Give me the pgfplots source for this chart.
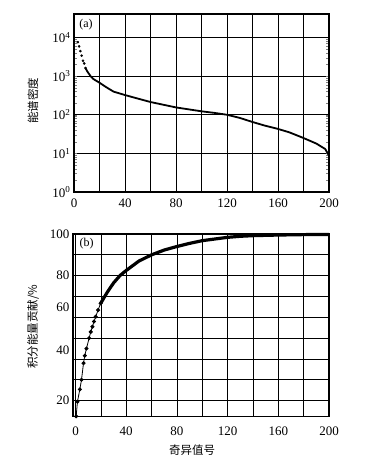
\documentclass[border=0pt]{standalone}
\usepackage{fontspec}
\setmainfont{Liberation Serif}
\newfontfamily\cjk{Noto Sans CJK SC}
\usepackage{pgfplots}
\pgfplotsset{compat=1.18}
\pgfplotsset{
  panel/.style={
    scale only axis, anchor=south west,
    axis line style={line width=1.2pt},
    grid=major,
    grid style={black, line width=0.7pt},
    major tick length=0pt,
    tick label style={font=\fontsize{13}{15}\selectfont},
    /pgf/number format/assume math mode=true,
    xmax=200,
    xtick={0,20,...,200},
    xticklabels={0,,40,,80,,120,,160,,200},
    clip=false,
  },
}
\begin{document}
\begin{tikzpicture}[x=1pt,y=1pt]
\useasboundingbox (0,0) rectangle (377,468);
% (a) spectral density, log scale
\begin{axis}[panel,
  at={(74pt,276pt)}, width=255pt, height=178pt,
  xmin=0,
  x tick label style={yshift=-3pt},
  ymode=log, ymin=1, ymax=40738,
  ytick={1,10,100,1000,10000},
  yticklabels={10\textsuperscript{0},10\textsuperscript{1},10\textsuperscript{2},10\textsuperscript{3},10\textsuperscript{4}},
]
\addplot[only marks, mark=*, mark size=1.1pt] coordinates {
  (3,7586)(4,5888)(5,4467)(6,3388)(7,2512)(8,2138)(9,1622)
};
\addplot[line width=1.8pt, no marks] coordinates {
  (9,1622)(10.5,1318)(13,1000)(15,851)(20,676)(25,525)(31,398)(40,324)
  (50,263)(60,214)(70,182)(80,155)(90,138)(100,123)(110,112)(120,100)
  (130,83)(140,65)(150,52)(160,43)(169,35)(180,25)(190,18)(197,13)(200,8.7)
};
\end{axis}
% (b) cumulative energy contribution
\begin{axis}[panel,
  at={(73pt,51.3pt)}, width=256pt, height=182.7pt,
  xmin=-2,
  x tick label style={yshift=-7pt},
  ymin=12.3, ymax=100,
  ytick={20,30,...,100},
  yticklabels={20,,,,,,80,,100},
  extra y ticks={44,64.8},
  extra y tick labels={40,60},
  extra y tick style={grid=none},
]
\addplot[line width=0.8pt, mark=*, mark size=1.6pt] coordinates {
  (0.5,12.5)(1.5,19.5)(3.4,25.4)(4.7,30)(6.3,38)(7.3,41.6)(8.6,45)
  (10.7,50)(12,53)(13.3,55.5)(14.6,58)(15.9,60.3)(17.8,63.5)(19.8,66.7)
};
\addplot[line width=3.2pt, no marks] coordinates {
  (19.8,66.7)(25,72)(30,76.5)(35,80)(40,82.5)(50,87)(60,90)(70,92.3)
  (80,94)(90,95.5)(100,96.8)(110,97.6)(120,98.4)(130,98.9)(140,99.2)
  (160,99.5)(180,99.7)(200,99.8)
};
\end{axis}
\node[font=\fontsize{12}{14}\selectfont] at (86,443) {(a)};
\node[font=\fontsize{12}{14}\selectfont] at (86.7,224) {(b)};
\node[font=\cjk\fontsize{11.5}{13}\selectfont, rotate=90] at (33,367) {能谱密度};
\node[font=\cjk\fontsize{11.5}{13}\selectfont, rotate=90] at (33,141.3) {积分能量贡献/\%};
\node[font=\cjk\fontsize{11.5}{13}\selectfont] at (192,18) {奇异值号};
\end{tikzpicture}
\end{document}
